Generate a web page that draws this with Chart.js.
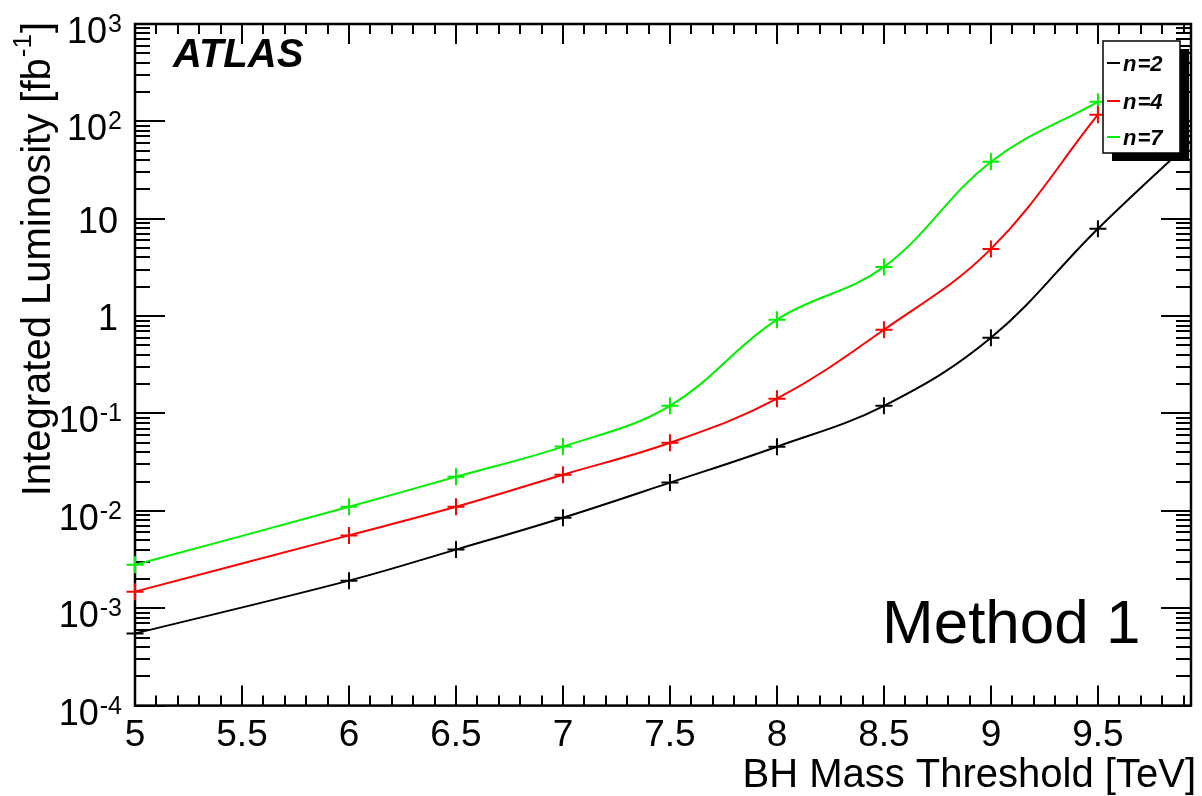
<!DOCTYPE html>
<html>
<head>
<meta charset="utf-8">
<script src="https://cdn.jsdelivr.net/npm/chart.js@4/dist/chart.umd.min.js"></script>
<style>
html,body{margin:0;padding:0;background:#fff;}
#wrap{width:1202px;height:796px;position:relative;}
</style>
</head>
<body>
<div id="wrap"><canvas id="c" width="1202" height="796"></canvas></div>
<script>
// ---- data ----
const massThresholds = [5, 6, 6.5, 7, 7.5, 8, 8.5, 9, 9.5];
const massThresholdsN2 = [5, 6, 6.5, 7, 7.5, 8, 8.5, 9, 9.5, 10];
const lumiN2 = [5.5e-4, 1.92e-3, 4.0e-3, 8.5e-3, 0.0195, 0.0456, 0.12, 0.60, 7.9, 85];
const lumiN4 = [1.48e-3, 5.6e-3, 0.011, 0.0235, 0.050, 0.142, 0.725, 4.9, 117];
const lumiN7 = [2.8e-3, 0.011, 0.0224, 0.0457, 0.12, 0.92, 3.2, 38.5, 159];
const seriesLabels = ['2', '4', '7'];
const seriesColors = ['#000000', '#ff0000', '#00f000'];
const xTickLabels = ['5', '5.5', '6', '6.5', '7', '7.5', '8', '8.5', '9', '9.5'];
const yTickExponents = [-4, -3, -2, -1, 0, 1, 2, 3];
const xTitle = 'BH Mass Threshold [TeV]';
const yTitleMain = 'Integrated Luminosity [fb';
const yTitleSup = '-1';
const yTitleEnd = ']';

const FONT = '"Liberation Sans", Arial, Helvetica, sans-serif';

function pts(xs, ys) { return xs.map((x, i) => ({x: x, y: ys[i]})); }

function ds(label, data, color) {
  return {
    label: label, data: data,
    borderColor: color, backgroundColor: color,
    borderWidth: 2, tension: 0.38,
    clip: {left: 14, top: 0, right: 0, bottom: 0},
    pointStyle: 'cross', pointRadius: 8.5, pointBorderWidth: 2,
    pointBorderColor: color, pointHoverRadius: 8.5
  };
}

const framePlugin = {
  id: 'rootFrame',
  beforeDatasetsDraw(chart) {
    const ctx = chart.ctx;
    const a = chart.chartArea;
    const xs = chart.scales.x, ys = chart.scales.y;
    ctx.save();
    ctx.strokeStyle = '#000';
    ctx.lineWidth = 2;
    ctx.beginPath();
    for (let i = 50; i <= 99; i++) {
      const v = i / 10;
      if (v > xs.max) break;
      const px = Math.round(xs.getPixelForValue(v));
      const len = (i % 5 === 0) ? 20 : 10;
      ctx.moveTo(px, a.bottom); ctx.lineTo(px, a.bottom - len);
      ctx.moveTo(px, a.top); ctx.lineTo(px, a.top + len);
    }
    for (let k = -4; k <= 3; k++) {
      for (let m = 1; m <= 9; m++) {
        const v = m * Math.pow(10, k);
        if (v > ys.max * 1.0001) break;
        const py = Math.round(ys.getPixelForValue(v));
        const len = (m === 1) ? 30 : 15;
        ctx.moveTo(a.left, py); ctx.lineTo(a.left + len, py);
        ctx.moveTo(a.right, py); ctx.lineTo(a.right - len, py);
      }
    }
    ctx.stroke();
    ctx.lineWidth = 2.5;
    ctx.strokeRect(a.left, a.top, a.right - a.left, a.bottom - a.top);
    ctx.restore();
  },
  afterDraw(chart) {
    const ctx = chart.ctx;
    const a = chart.chartArea;
    const ys = chart.scales.y;
    ctx.save();
    ctx.fillStyle = '#000';
    ctx.textBaseline = 'alphabetic';
    const labRight = a.left - 13;
    yTickExponents.forEach(e => {
      const py = ys.getPixelForValue(Math.pow(10, e));
      if (e === 0 || e === 1) {
        ctx.font = '36px ' + FONT;
        ctx.textAlign = 'right';
        ctx.fillText(e === 0 ? '1' : '10', labRight - 4, py + 14);
      } else {
        const sup = String(e);
        ctx.font = '25px ' + FONT;
        const sw = ctx.measureText(sup).width;
        ctx.textAlign = 'right';
        ctx.fillText(sup, labRight, py + 8);
        ctx.font = '36px ' + FONT;
        ctx.fillText('10', labRight - sw - 1, py + 19);
      }
    });

    // y title (rotated, aligned to top)
    ctx.save();
    ctx.translate(50, a.top - 2);
    ctx.rotate(-Math.PI / 2);
    ctx.font = '40px ' + FONT;
    const endW = ctx.measureText(yTitleEnd).width;
    ctx.textAlign = 'right';
    ctx.fillText(yTitleEnd, 0, 0);
    ctx.font = '26px ' + FONT;
    const supW = ctx.measureText(yTitleSup).width;
    ctx.fillText(yTitleSup, -endW - 1, -19);
    ctx.font = '40px ' + FONT;
    ctx.fillText(yTitleMain, -endW - supW - 2, 0);
    ctx.restore();

    // x title
    ctx.font = '40px ' + FONT;
    ctx.textAlign = 'right';
    ctx.fillText(xTitle, 1196, 787);

    // ATLAS label
    ctx.font = 'italic bold 40px ' + FONT;
    ctx.textAlign = 'left';
    ctx.fillText('ATLAS', a.left + 38, a.top + 43);

    // Method 1
    ctx.font = '62px ' + FONT;
    ctx.fillText('Method 1', 882, 643);

    // legend with ROOT-style shadow
    const bx = a.right - 88, by = a.top + 17, bw = 77, bh = 112;
    ctx.fillStyle = '#000';
    ctx.fillRect(bx + 9, by + 8, bw, bh);
    ctx.fillStyle = '#fff';
    ctx.fillRect(bx, by, bw, bh);
    ctx.lineWidth = 1.5;
    ctx.strokeStyle = '#000';
    ctx.strokeRect(bx, by, bw, bh);
    const rowY = [by + 22, by + 60, by + 96];
    chart.data.datasets.forEach((d, i) => {
      const yy = rowY[i];
      ctx.strokeStyle = d.borderColor;
      ctx.lineWidth = 2;
      ctx.beginPath();
      ctx.moveTo(bx + 4, yy); ctx.lineTo(bx + 17, yy);
      ctx.stroke();
      ctx.fillStyle = '#000';
      ctx.font = 'italic bold 22px ' + FONT;
      ctx.textAlign = 'left';
      ctx.fillText('n', bx + 20, yy + 8);
      const nw = ctx.measureText('n').width;
      ctx.fillText('=' + seriesLabels[i], bx + 20 + nw + 1, yy + 8);
    });
    ctx.restore();
  }
};

new Chart(document.getElementById('c'), {
  type: 'line',
  data: {
    datasets: [
      ds('n=2', pts(massThresholdsN2, lumiN2), seriesColors[0]),
      ds('n=4', pts(massThresholds, lumiN4), seriesColors[1]),
      ds('n=7', pts(massThresholds, lumiN7), seriesColors[2])
    ]
  },
  options: {
    responsive: false,
    animation: false,
    events: [],
    elements: {line: {capBezierPoints: false}},
    layout: {padding: {left: 135, right: 11, top: 24, bottom: 30}},
    plugins: {legend: {display: false}, tooltip: {enabled: false}},
    scales: {
      x: {
        type: 'linear', min: 5, max: 9.935,
        grid: {display: false, drawTicks: false},
        border: {display: false},
        ticks: {
          stepSize: 0.5, includeBounds: false, autoSkip: false, maxRotation: 0,
          padding: 8, color: '#000',
          font: {family: FONT, size: 37},
          callback: (v) => {
            const idx = Math.round((v - 5) / 0.5);
            return (Math.abs(v - (5 + idx * 0.5)) < 1e-6 && xTickLabels[idx] !== undefined) ? xTickLabels[idx] : '';
          }
        }
      },
      y: {type: 'logarithmic', min: 1e-4, max: 1e3, display: false}
    }
  },
  plugins: [framePlugin]
});
</script>
</body>
</html>
